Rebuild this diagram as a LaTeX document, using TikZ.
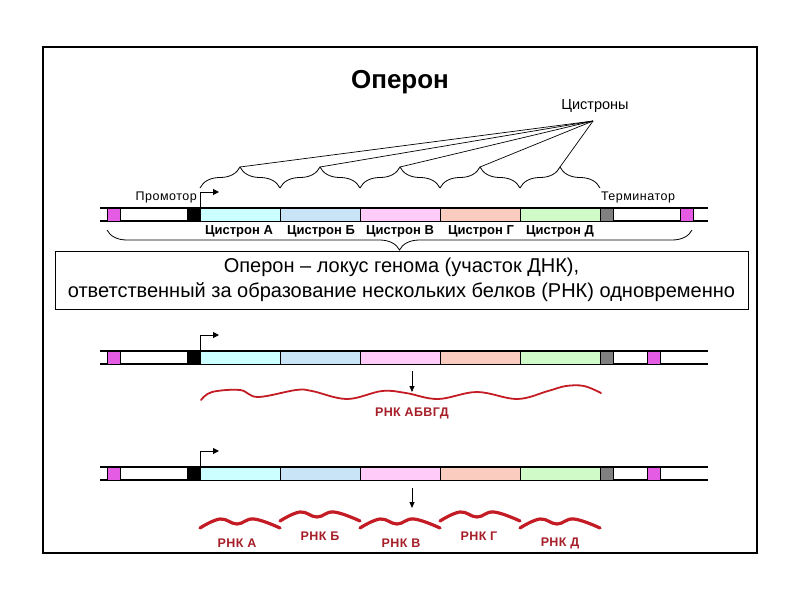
\documentclass[tikz,border=0pt]{standalone}
\usepackage{fontspec}
\setmainfont{Liberation Sans}
\usetikzlibrary{decorations.pathreplacing,arrows.meta,calc}
\definecolor{pinkc}{RGB}{228,92,228}
\definecolor{cisA}{RGB}{204,255,255}
\definecolor{cisB}{RGB}{200,228,246}
\definecolor{cisV}{RGB}{255,204,250}
\definecolor{cisG}{RGB}{250,204,192}
\definecolor{cisD}{RGB}{208,250,200}
\definecolor{greyc}{RGB}{128,128,128}
\definecolor{rnared}{RGB}{196,28,36}
\definecolor{rnatext}{RGB}{165,30,40}
\tikzset{
 strandline/.style={line width=1.3pt},
 seg/.style={draw=black, line width=0.6pt, inner sep=0pt, outer sep=0pt, minimum height=13pt, anchor=north west},
 lbl/.style={font=\fontsize{12.5}{14}\selectfont\addfontfeature{LetterSpace=4}, inner sep=0pt},
 cis/.style={font=\fontsize{13}{15}\selectfont\bfseries, inner sep=0pt},
 rnalbl/.style={font=\fontsize{12.5}{14}\selectfont\bfseries\addfontfeature{LetterSpace=3}, text=rnatext, inner sep=0pt},
 rnathin/.style={draw=rnared, line width=1.8pt, line cap=round},
 rnathick/.style={draw=rnared, line width=3.2pt, line cap=round},
 promarrow/.style={line width=1pt, -{Triangle[length=6pt,width=6pt]}},
 downarrow/.style={line width=0.8pt, -{Triangle[length=6pt,width=5pt]}},
 cbrace/.style={decorate, decoration={brace, amplitude=21pt}, line width=0.8pt},
 bigbrace/.style={decorate, decoration={brace, amplitude=20pt}, line width=0.8pt},
 fanline/.style={line width=0.7pt},
}
\newcommand\opstrand[3]{%
 \draw[strandline] (100,#2) -- (708,#2);
 \draw[strandline] (100,#2+13) -- (708,#2+13);
 \node[seg, fill=pinkc, minimum width=13pt] (#1pa) at (107,#2) {};
 \node[seg, fill=black, minimum width=13pt] (#1blk) at (187,#2) {};
 \node[seg, fill=cisA, minimum width=80pt] (#1A) at (200,#2) {};
 \node[seg, fill=cisB, minimum width=80pt] (#1B) at (280,#2) {};
 \node[seg, fill=cisV, minimum width=80pt] (#1V) at (360,#2) {};
 \node[seg, fill=cisG, minimum width=80pt] (#1G) at (440,#2) {};
 \node[seg, fill=cisD, minimum width=80pt] (#1D) at (520,#2) {};
 \node[seg, fill=greyc, minimum width=13pt] (#1term) at (600,#2) {};
 \node[seg, fill=pinkc, minimum width=13pt] (#1pb) at (#3,#2) {};
 \draw[promarrow] (#1blk.north east) -- ++(0,-16) -- ++(19,0);
}
\begin{document}
\begin{tikzpicture}[x=1pt,y=-1pt]
\useasboundingbox (0,0) rectangle (800,600);
\draw[line width=1.5pt] (43,47) rectangle (757,553);
% title
\node[font=\fontsize{26}{30}\selectfont\bfseries, inner sep=0pt] (title) at (400,82) {Оперон};
% cistrons label and fan
\node[font=\fontsize{14.5}{16}\selectfont, inner sep=0pt] (cistrons) at (595,106) {Цистроны};
\coordinate (fan) at (593,121);
\foreach \i in {0,...,4}{
  \draw[cbrace] (200+80*\i,188) -- (280+80*\i,188);
  \coordinate (tip\i) at (240+80*\i,167);
  \draw[fanline] (fan) -- (tip\i);
}
% strand 1
\opstrand{s1}{208}{680}
\node[lbl, anchor=east] (prom) at (197,197) {Промотор};
\node[lbl] (term) at (638,197) {Терминатор};
\node[cis] (cA) at (239,231) {Цистрон А};
\node[cis] (cB) at (321,231) {Цистрон Б};
\node[cis] (cV) at (400,231) {Цистрон В};
\node[cis] (cG) at (481,231) {Цистрон Г};
\node[cis] (cD) at (560,231) {Цистрон Д};
\coordinate (bbL) at (107,230);
\coordinate (bbR) at (692,230);
\draw[bigbrace] (bbR) -- (bbL);
% definition box
\node[draw, line width=1pt, minimum width=693pt, minimum height=58pt, inner sep=0pt,
  font=\fontsize{20}{25}\selectfont, align=center] (def) at (401.5,280)
  {Оперон – локус генома (участок ДНК),\\ответственный за образование нескольких белков (РНК) одновременно};
% strand 2
\opstrand{s2}{351}{647}
\coordinate (d2s) at (412,371);
\coordinate (d2e) at (412,392);
\draw[downarrow] (d2s) -- (d2e);
\draw[rnathin] plot[smooth, tension=0.6] coordinates {(201,400) (212,392) (240,390) (258,397) (296,390) (312,391) (347,399) (382,391) (406,393) (438,399) (477,392) (517,399) (548,391) (566,386) (584,386) (601,393)};
\node[rnalbl] (rall) at (412,413) {РНК АБВГД};
% strand 3
\opstrand{s3}{467}{647}
\coordinate (d3s) at (412,488);
\coordinate (d3e) at (412,508);
\draw[downarrow] (d3s) -- (d3e);
\foreach \x/\dy in {200/0, 280/-7, 360/0, 440/-7, 520/0}{
  \draw[rnathick] plot[smooth, tension=0.7] coordinates {(\x,528+\dy) (\x+20,519+\dy) (\x+37,524+\dy) (\x+54,519+\dy) (\x+80,528+\dy)};
}
\node[rnalbl] (rA) at (237,543) {РНК А};
\node[rnalbl] (rB) at (320,536) {РНК Б};
\node[rnalbl] (rV) at (401,543) {РНК В};
\node[rnalbl] (rG) at (479,536) {РНК Г};
\node[rnalbl] (rD) at (560,543) {РНК Д};
\end{tikzpicture}
\end{document}
